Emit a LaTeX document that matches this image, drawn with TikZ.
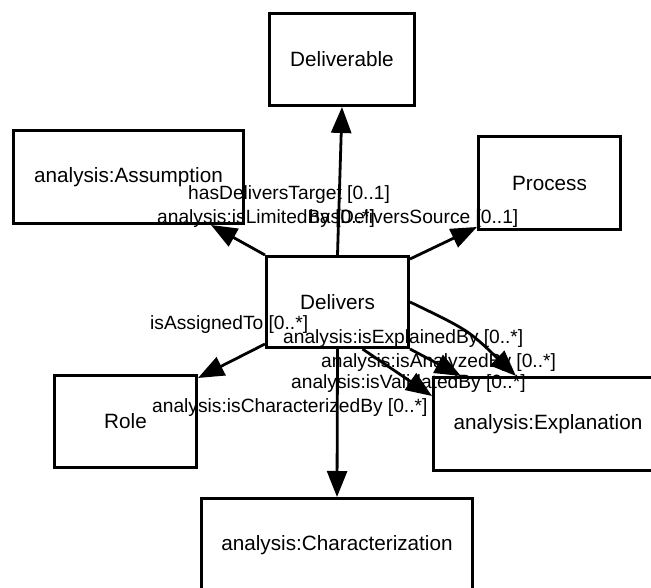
\documentclass[tikz,border=0pt]{standalone}
\usepackage{fontspec}
\setmainfont{Liberation Sans}
\usetikzlibrary{arrows.meta}

\begin{document}
\begin{tikzpicture}[
  x=1pt, y=-1pt,
  cls/.style={draw, line width=3pt, inner sep=0pt, font=\fontsize{20.7pt}{24pt}\selectfont},
  lbl/.style={inner sep=0pt, anchor=base west, font=\fontsize{19.2pt}{22pt}\selectfont},
  arr/.style={-{Triangle[length=26pt, width=20pt]}, line width=2.8pt}]
\useasboundingbox (0,0) rectangle (651,588);
\clip (0,0) rectangle (651,588);
% classes
\node[cls, minimum width=145pt, minimum height=92pt] (deliverable) at (342,59.5) {Deliverable};
\node[cls, minimum width=230pt, minimum height=93pt] (assumption) at (128.5,177) {analysis:Assumption};
\node[cls, minimum width=142pt, minimum height=93pt] (process) at (549.5,183) {Process};
\node[cls, minimum width=142pt, minimum height=91pt] (delivers) at (337.5,302) {Delivers};
\node[cls, minimum width=142pt, minimum height=92pt] (role) at (125.5,421.5) {Role};
\node[cls, minimum width=229pt, minimum height=93pt] (explanation) at (548,424) {analysis:Explanation};
\node[cls, minimum width=271pt, minimum height=93pt] (characterization) at (337,545) {analysis:Characterization};
% relations
\draw[arr] (delivers.north) -- (deliverable.south);
\draw[arr] (delivers.north west) -- ([xshift=-34pt]assumption.south east);
\draw[arr] ([yshift=-4pt]delivers.north east) -- ([yshift=4pt]process.south west);
\draw[arr] ([yshift=5pt]delivers.south west) -- ([yshift=-4pt]role.north east);
\draw[arr] (delivers.south) -- (characterization.north);
\draw[arr] (delivers.east) .. controls (468,330) .. ([xshift=84pt]explanation.north west);
\draw[arr] (delivers.south east) -- ([xshift=29pt]explanation.north west);
\draw[arr] ([xshift=25pt]delivers.south) -- ([yshift=-20pt]explanation.north west);
% role names
\node[lbl] (target) at (188,200) {hasDeliversTarget [0..1]};
\node[lbl] (limited) at (157,224) {analysis:isLimitedBy [0..*]};
\node[lbl] (source) at (309,224) {hasDeliversSource [0..1]};
\node[lbl] (assigned) at (150,330) {isAssignedTo [0..*]};
\node[lbl] (explained) at (283,343) {analysis:isExplainedBy [0..*]};
\node[lbl] (analyzed) at (321,367) {analysis:isAnalyzedBy [0..*]};
\node[lbl] (validated) at (291,388) {analysis:isValidatedBy [0..*]};
\node[lbl] (characterized) at (152,412) {analysis:isCharacterizedBy [0..*]};
\end{tikzpicture}
\end{document}
